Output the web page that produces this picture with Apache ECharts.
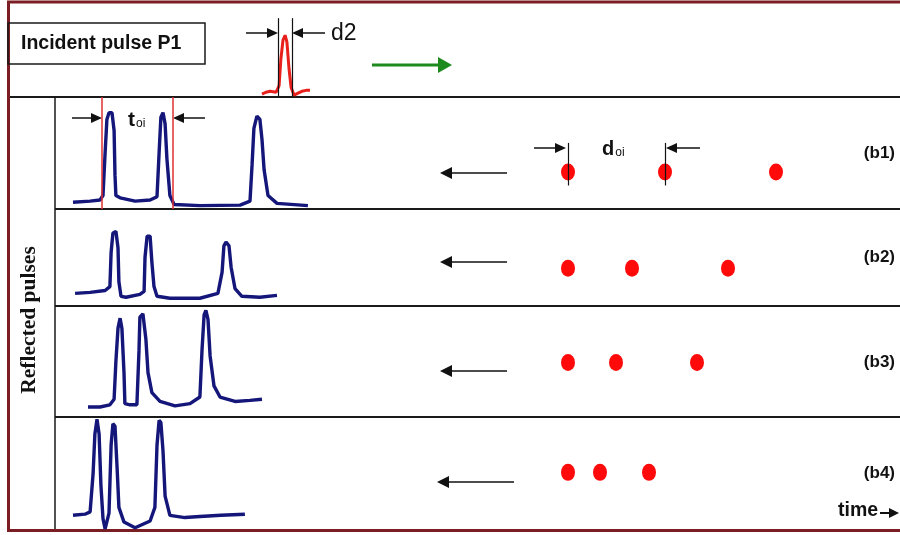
<!DOCTYPE html>
<html>
<head>
<meta charset="utf-8">
<script src="https://cdn.jsdelivr.net/npm/echarts@6/dist/echarts.min.js"></script>
<style>
  html, body { margin: 0; padding: 0; background: #ffffff; }
  #chart { width: 900px; height: 535px; }
</style>
</head>
<body>
<div id="chart"></div>
<script>
// ---- Data: [time, amplitude %] ----
const incidentPulse = [
  [69, 3], [70.3, 5], [71.7, 6], [73.7, 5], [74.7, 12], [75.3, 40], [76, 60], [76.7, 65],
  [77.3, 58], [78, 30], [78.7, 10], [79.7, 2], [81, 4], [82.3, 6], [83.7, 7], [85, 7]
];

const reflectedB1 = [
  [6, 6], [11.7, 7], [15, 8], [16, 12], [16.7, 50], [17.3, 80], [18, 86], [19, 86], [19.7, 70],
  [20, 30], [20.3, 12], [21.7, 10], [26.7, 7], [31.7, 8], [34, 11], [34.7, 50], [35.3, 82],
  [36, 86], [36.7, 76], [37.3, 45], [38.3, 12], [39.7, 4], [48.3, 3], [61.7, 3.5], [65, 7],
  [65.7, 40], [66.3, 72], [67.3, 83], [68.3, 80], [69, 62], [69.7, 35], [71, 12], [74, 5], [84.3, 3]
];

const reflectedB2 = [
  [6.7, 13], [11.7, 14], [16.7, 16], [18.3, 20], [18.7, 55], [19.3, 75], [20.3, 77], [21, 60],
  [21.3, 25], [22, 10], [23.7, 9], [28.3, 12], [29.7, 15], [30, 50], [30.7, 72], [31.7, 72],
  [32.3, 45], [33, 20], [34, 10], [38.3, 8], [48.3, 8], [54.3, 13], [55.7, 35], [56.3, 62],
  [57, 66], [58, 62], [58.7, 40], [60, 18], [62.3, 10], [68.3, 9], [74, 11]
];

const reflectedB3 = [
  [11, 9], [15, 9], [18.3, 11], [19.7, 16], [20.3, 50], [21, 80], [21.7, 89], [22.3, 80],
  [23, 40], [23.3, 12], [25, 11], [27.3, 11], [28, 60], [28.3, 90], [29.3, 93], [30.3, 70],
  [31, 40], [32.3, 22], [35, 14], [40, 10], [45, 12], [48.3, 18], [49, 60], [49.7, 92],
  [50.3, 96], [51, 88], [51.7, 55], [53, 28], [55, 18], [60, 14], [65, 15], [69, 16]
];

const reflectedB4 = [
  [6, 13], [10, 14], [11.7, 16], [12.7, 50], [13.3, 85], [14, 98], [14.7, 85], [15.3, 40],
  [16, 10], [16.7, 1], [17.3, 1], [18, 15], [18.7, 75], [19.3, 94], [20, 92], [20.7, 55],
  [21.3, 20], [23, 7], [26.7, 2], [31.7, 8], [33.3, 20], [34, 75], [34.7, 97], [35.3, 95],
  [36, 70], [36.7, 30], [38.3, 13], [43.3, 11], [48.3, 12], [55.3, 13], [63.3, 14]
];

// Reflector positions (distance units) for each case
const reflectorB1 = [148, 245, 356];
const reflectorB2 = [148, 212, 308];
const reflectorB3 = [148, 196, 277];
const reflectorB4 = [148, 180, 229];

const panelLabels = ['(b1)', '(b2)', '(b3)', '(b4)'];
const d2Marks = [74.3, 79];      // pulse width d2 on the time axis
const toiMarks = [15.7, 39.3];   // t_oi markers on case (b1)
const doiMarks = [148, 245];     // d_oi markers on case (b1)

// ---- Layout ----
const panels = [[97, 209], [209, 306], [306, 417], [417, 530]];
const dotLevel = [33, 39, 49, 51];
const waveColor = '#14167a';
const pulseRed = '#e8201c';
const dotRed = '#ff0a0a';

const grids = [{ left: 55, top: 2, width: 300, height: 95 }];
panels.forEach(p => grids.push({ left: 55, top: p[0], width: 300, height: p[1] - p[0] }));
panels.forEach(p => grids.push({ left: 420, top: p[0], width: 480, height: p[1] - p[0] }));

const xAxes = grids.map((g, i) => ({
  type: 'value', gridIndex: i, show: false,
  min: 0, max: i < 5 ? 100 : 480
}));
const yAxes = grids.map((g, i) => ({
  type: 'value', gridIndex: i, show: false, min: 0, max: 100
}));

const waves = [reflectedB1, reflectedB2, reflectedB3, reflectedB4];
const reflectors = [reflectorB1, reflectorB2, reflectorB3, reflectorB4];

const series = [];
series.push({
  type: 'line', xAxisIndex: 0, yAxisIndex: 0, data: incidentPulse,
  showSymbol: false, lineStyle: { color: pulseRed, width: 3 },
  markLine: {
    silent: true, symbol: 'none', label: { show: false },
    lineStyle: { color: '#111', width: 1.2, type: 'solid' },
    data: [
      [{ coord: [d2Marks[0], 1] }, { coord: [d2Marks[0], 83] }],
      [{ coord: [d2Marks[1], 1] }, { coord: [d2Marks[1], 83] }]
    ]
  }
});
waves.forEach((w, i) => {
  const s = {
    type: 'line', xAxisIndex: i + 1, yAxisIndex: i + 1, data: w,
    showSymbol: false, clip: false, lineStyle: { color: waveColor, width: 3.4 }
  };
  if (i === 0) {
    s.markLine = {
      silent: true, symbol: 'none', label: { show: false },
      lineStyle: { color: '#e03030', width: 1.5, type: 'solid' },
      data: toiMarks.map(t => ({ xAxis: t }))
    };
  }
  series.push(s);
});
reflectors.forEach((r, i) => {
  const s = {
    type: 'scatter', xAxisIndex: i + 5, yAxisIndex: i + 5,
    data: r.map(d => [d, dotLevel[i]]),
    symbol: 'circle', symbolSize: [14, 17],
    itemStyle: { color: dotRed, opacity: 1 }
  };
  if (i === 0) {
    s.markLine = {
      silent: true, symbol: 'none', label: { show: false },
      lineStyle: { color: '#111', width: 1.2, type: 'solid' },
      data: doiMarks.map(d => [{ coord: [d, 21] }, { coord: [d, 59] }])
    };
  }
  series.push(s);
});

// ---- Annotation helpers ----
function arrow(x1, x2, y, color, lw, headLen, halfH) {
  const dir = x2 > x1 ? 1 : -1;
  const base = x2 - dir * headLen;
  return [
    { type: 'line', shape: { x1: x1, y1: y, x2: base, y2: y },
      style: { stroke: color, lineWidth: lw } },
    { type: 'polygon', shape: { points: [[x2, y], [base, y - halfH], [base, y + halfH]] },
      style: { fill: color } }
  ];
}
function hline(x1, x2, y, color, lw) {
  return { type: 'line', shape: { x1: x1, y1: y, x2: x2, y2: y }, style: { stroke: color, lineWidth: lw } };
}
function vline(x, y1, y2, color, lw) {
  return { type: 'line', shape: { x1: x, y1: y1, x2: x, y2: y2 }, style: { stroke: color, lineWidth: lw } };
}

const frame = '#7a1e24';
const graphics = [];
graphics.push(hline(8, 900, panels[0][0], '#1a1a1a', 2));
panels.slice(1).forEach(p => graphics.push(hline(55, 900, p[0], '#1a1a1a', 2)));
graphics.push(vline(55, 97, 530, '#1a1a1a', 1.5));
graphics.push(hline(7, 900, 2, frame, 3));
graphics.push(vline(8.5, 1, 531, frame, 3));
graphics.push(hline(7, 900, 530.5, frame, 3));

// incident pulse label box
graphics.push({ type: 'rect', shape: { x: 8, y: 23, width: 197, height: 41 },
  style: { fill: 'none', stroke: '#1a1a1a', lineWidth: 1.5 } });
graphics.push({ type: 'text', x: 21, y: 44,
  style: { text: 'Incident pulse P1', font: 'bold 19.5px "Liberation Sans", Arial, sans-serif',
    fill: '#111', verticalAlign: 'middle' } });

// d2 dimension
graphics.push(...arrow(246, 278, 33, '#111', 1.5, 11, 5));
graphics.push(...arrow(325, 292, 33, '#111', 1.5, 11, 5));
graphics.push({ type: 'text', x: 331, y: 34,
  style: { text: 'd2', font: '23px "Liberation Sans", Arial, sans-serif', fill: '#111', verticalAlign: 'middle' } });

// propagation direction
graphics.push(...arrow(372, 452, 65, '#1c8a1c', 3, 14, 8));

// t_oi dimension
graphics.push(...arrow(72, 102, 118, '#111', 1.5, 11, 5));
graphics.push(...arrow(205, 173, 118, '#111', 1.5, 11, 5));
graphics.push({ type: 'text', x: 128, y: 120,
  style: { text: '{a|t}{b|oi}', verticalAlign: 'middle',
    rich: {
      a: { font: 'bold 21px "Liberation Sans", Arial, sans-serif', fill: '#111' },
      b: { font: '12px "Liberation Sans", Arial, sans-serif', fill: '#111', padding: [8, 0, 0, 1] }
    } } });

// d_oi dimension
graphics.push(...arrow(534, 566, 148, '#111', 1.5, 11, 5));
graphics.push(...arrow(700, 666, 148, '#111', 1.5, 11, 5));
graphics.push({ type: 'text', x: 602, y: 149,
  style: { text: '{a|d}{b|oi}', verticalAlign: 'middle',
    rich: {
      a: { font: 'bold 20px "Liberation Sans", Arial, sans-serif', fill: '#111' },
      b: { font: '12px "Liberation Sans", Arial, sans-serif', fill: '#111', padding: [8, 0, 0, 1] }
    } } });

// reflected direction arrows
[[440, 507, 173], [440, 507, 262], [440, 507, 371], [437, 514, 482]].forEach(a => {
  graphics.push(...arrow(a[1], a[0], a[2], '#111', 1.5, 12, 6));
});

// case labels
[153, 257, 362, 473].forEach((y, i) => {
  graphics.push({ type: 'text', x: 895, y: y,
    style: { text: panelLabels[i], font: 'bold 17px "Liberation Sans", Arial, sans-serif',
      fill: '#111', align: 'right', verticalAlign: 'middle' } });
});

// time axis hint
graphics.push({ type: 'text', x: 838, y: 511,
  style: { text: 'time', font: 'bold 19.5px "Liberation Sans", Arial, sans-serif', fill: '#111', verticalAlign: 'middle' } });
graphics.push(...arrow(880, 899, 513, '#111', 2, 10, 5));

// side title
graphics.push({ type: 'text', x: 29, y: 320, rotation: Math.PI / 2,
  style: { text: 'Reflected pulses', font: 'bold 21.5px "Liberation Serif", "Times New Roman", serif',
    fill: '#111', align: 'center', verticalAlign: 'middle' } });

const chart = echarts.init(document.getElementById('chart'), null, { renderer: 'canvas' });
chart.setOption({
  animation: false,
  backgroundColor: '#ffffff',
  grid: grids,
  xAxis: xAxes,
  yAxis: yAxes,
  series: series,
  graphic: { elements: graphics }
});
</script>
</body>
</html>
